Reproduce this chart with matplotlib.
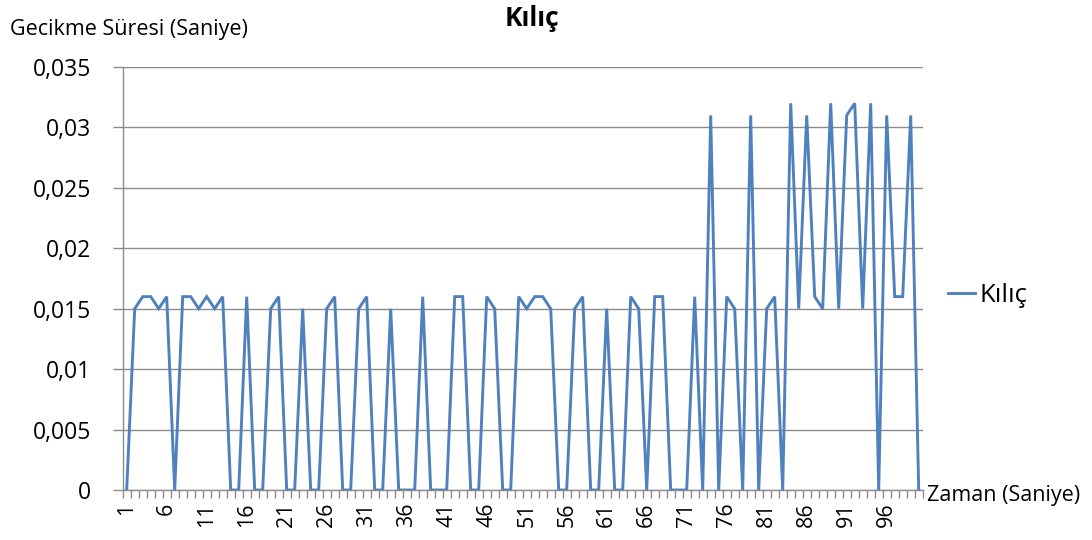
import matplotlib
matplotlib.use("Agg")
import matplotlib.pyplot as plt
from matplotlib.ticker import FixedLocator, FuncFormatter

plt.rcParams['font.family'] = ['Open Sans', 'DejaVu Sans']

title = "Kılıç"
series_name = "Kılıç"
y_label = "Gecikme Süresi (Saniye)"
x_label = "Zaman (Saniye)"

times = list(range(1, 101))
delays = [
    0, .015, .016, .016, .015, .016, 0, .016, .016, .015,
    .016, .015, .016, 0, 0, .016, 0, 0, .015, .016,
    0, 0, .015, 0, 0, .015, .016, 0, 0, .015,
    .016, 0, 0, .015, 0, 0, 0, .016, 0, 0,
    0, .016, .016, 0, 0, .016, .015, 0, 0, .016,
    .015, .016, .016, .015, 0, 0, .015, .016, 0, 0,
    .015, 0, 0, .016, .015, 0, .016, .016, 0, 0,
    0, .016, 0, .031, 0, .016, .015, 0, .031, 0,
    .015, .016, 0, .032, .015, .031, .016, .015, .032, .015,
    .031, .032, .015, .032, 0, .031, .016, .016, .031, 0,
]
y_ticks = [0, 0.005, 0.01, 0.015, 0.02, 0.025, 0.03, 0.035]
x_tick_labels = list(range(1, 101, 5))

fig = plt.figure(figsize=(10.92, 5.4), dpi=100)
ax = fig.add_axes([122.7/1092, 1-490/540, 800/1092, 423/540])

line_color = '#4F81BD'
grid_color = '#8C8C8C'

ax.plot(times, delays, color=line_color, lw=2.1, label=series_name, solid_joinstyle='miter')

ax.set_xlim(0.5, 100.5)
ax.set_ylim(0, 0.035)
ax.set_yticks(y_ticks)
ax.yaxis.set_major_formatter(FuncFormatter(lambda v, p: ("%g" % round(v, 3)).replace('.', ',')))
ax.grid(axis='y', color=grid_color, lw=1.0)
ax.set_axisbelow(True)

# category boundaries as tick marks, labels at centers
ax.xaxis.set_major_locator(FixedLocator([i + 0.5 for i in range(0, 101)]))
ax.set_xticklabels([])
ax.xaxis.set_minor_locator(FixedLocator(x_tick_labels))
ax.set_xticklabels([str(v) for v in x_tick_labels], minor=True, rotation=90)
ax.tick_params(axis='x', which='major', length=6, color=grid_color, width=1.0, direction='out')
ax.tick_params(axis='x', which='minor', length=0, pad=9, labelsize=15.5)
ax.tick_params(axis='y', length=7, color=grid_color, width=1.0, labelsize=16.5, pad=16)

for s in ['top', 'right']:
    ax.spines[s].set_visible(False)
for s in ['left', 'bottom']:
    ax.spines[s].set_color(grid_color)
    ax.spines[s].set_linewidth(1.0)

fig.text(532/1092, 1-19/540, title, ha='center', va='center', fontsize=19, fontweight='bold')
fig.text(10/1092, 1-30/540, y_label, ha='left', va='center', fontsize=15.5)
fig.text(927/1092, 1-495/540, x_label, ha='left', va='center', fontsize=15.5)

leg = fig.legend(loc='center left', bbox_to_anchor=(940/1092, 1-295/540), frameon=False,
                 fontsize=18.5, handlelength=1.05, handletextpad=0.2, borderaxespad=0, borderpad=0.3)

fig.savefig("out.png", dpi=100)
